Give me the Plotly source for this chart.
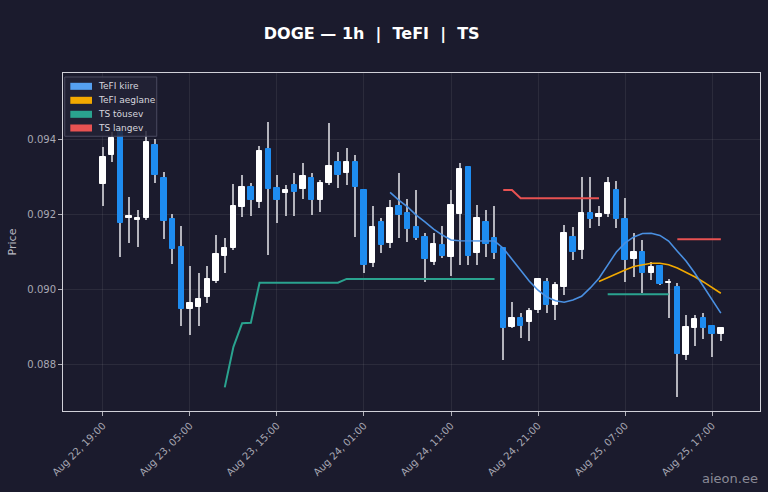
import plotly.graph_objects as go
import pandas as pd

# hourly DOGE candles, Aug 22 19:00 -> Aug 25 18:00
start_time = "2025-08-22 19:00"
n_candles = 72

opens = [0.09280, 0.09357, 0.09419, 0.09190, 0.09184, 0.09189, 0.09384, 0.09295, 0.09188, 0.09111,
         0.08946, 0.08953, 0.08978, 0.09022, 0.09088, 0.09109, 0.09220, 0.09271, 0.09232, 0.09373,
         0.09269, 0.09256, 0.09277, 0.09267, 0.09297, 0.09237, 0.09282, 0.09340, 0.09309, 0.09340,
         0.09264, 0.09070, 0.09180, 0.09123, 0.09221, 0.09203, 0.09165, 0.09138, 0.09073, 0.09117,
         0.09086, 0.09200, 0.09326, 0.09095, 0.09180, 0.09135, 0.09109, 0.08900, 0.08922, 0.08911,
         0.08944, 0.09020, 0.08957, 0.09006, 0.09140, 0.09104, 0.09203, 0.09193, 0.09200, 0.09264,
         0.09187, 0.09079, 0.09099, 0.09042, 0.09061, 0.09015, 0.09005, 0.08824, 0.08895, 0.08922,
         0.08901, 0.08880]
highs = [0.09379, 0.09420, 0.09429, 0.09246, 0.09211, 0.09421, 0.09399, 0.09311, 0.09199, 0.09168,
         0.09061, 0.09044, 0.09061, 0.09144, 0.09135, 0.09280, 0.09304, 0.09282, 0.09381, 0.09446,
         0.09304, 0.09277, 0.09309, 0.09335, 0.09309, 0.09291, 0.09442, 0.09366, 0.09375, 0.09357,
         0.09266, 0.09221, 0.09189, 0.09237, 0.09309, 0.09239, 0.09264, 0.09149, 0.09150, 0.09168,
         0.09264, 0.09337, 0.09328, 0.09224, 0.09211, 0.09221, 0.09109, 0.08966, 0.08935, 0.08949,
         0.09029, 0.09029, 0.09020, 0.09171, 0.09166, 0.09298, 0.09298, 0.09221, 0.09300, 0.09289,
         0.09242, 0.09149, 0.09131, 0.09073, 0.09064, 0.09026, 0.09015, 0.08931, 0.08931, 0.08935,
         0.08904, 0.08898]
lows = [0.09221, 0.09339, 0.09086, 0.09122, 0.09113, 0.09183, 0.09283, 0.09133, 0.09067, 0.08901,
        0.08877, 0.08901, 0.08963, 0.09017, 0.09043, 0.09104, 0.09193, 0.09195, 0.09215, 0.09091,
        0.09175, 0.09196, 0.09195, 0.09239, 0.09197, 0.09205, 0.09277, 0.09269, 0.09277, 0.09138,
        0.09043, 0.09060, 0.09095, 0.09109, 0.09135, 0.09126, 0.09131, 0.09020, 0.09064, 0.09082,
        0.09035, 0.09064, 0.09064, 0.09064, 0.09086, 0.09079, 0.08810, 0.08895, 0.08869, 0.08862,
        0.08935, 0.08935, 0.08917, 0.08984, 0.09077, 0.09079, 0.09162, 0.09168, 0.09193, 0.09162,
        0.09020, 0.09033, 0.08989, 0.09024, 0.09011, 0.08922, 0.08713, 0.08811, 0.08848, 0.08866,
        0.08819, 0.08862]
closes = [0.09353, 0.09402, 0.09175, 0.09196, 0.09190, 0.09391, 0.09304, 0.09182, 0.09108, 0.08946,
          0.08962, 0.08973, 0.09027, 0.09093, 0.09109, 0.09222, 0.09273, 0.09237, 0.09369, 0.09266,
          0.09237, 0.09263, 0.09260, 0.09302, 0.09237, 0.09283, 0.09329, 0.09304, 0.09340, 0.09273,
          0.09064, 0.09165, 0.09117, 0.09215, 0.09197, 0.09159, 0.09135, 0.09079, 0.09119, 0.09088,
          0.09224, 0.09319, 0.09088, 0.09189, 0.09120, 0.09097, 0.08895, 0.08922, 0.08901, 0.08942,
          0.09027, 0.08957, 0.09011, 0.09149, 0.09099, 0.09203, 0.09186, 0.09199, 0.09282, 0.09186,
          0.09077, 0.09099, 0.09042, 0.09059, 0.09013, 0.09020, 0.08827, 0.08898, 0.08919, 0.08895,
          0.08880, 0.08895]

# indicator lines (first index where each begins)
tefi_fast_start = 33
tefi_fast = [0.09258, 0.09237, 0.09219, 0.09197, 0.09179, 0.09160, 0.09144, 0.09131, 0.09129, 0.09129,
             0.09129, 0.09129, 0.09128, 0.09109, 0.09080, 0.09051, 0.09021, 0.08997, 0.08979, 0.08969,
             0.08965, 0.08971, 0.08981, 0.09003, 0.09029, 0.09064, 0.09099, 0.09123, 0.09139, 0.09148,
             0.09149, 0.09143, 0.09128, 0.09101, 0.09075, 0.09043, 0.09008, 0.08973, 0.08936]
tefi_slow_start = 57
tefi_slow = [0.09020, 0.09031, 0.09041, 0.09051, 0.09060, 0.09065, 0.09069, 0.09069, 0.09065, 0.09056,
             0.09045, 0.09033, 0.09019, 0.09004, 0.08989]
ts_up_start = 14
ts_up = [0.08738, 0.08846, 0.08909, 0.08910, 0.09017, 0.09017, 0.09017, 0.09017, 0.09017, 0.09017,
         0.09017, 0.09017, 0.09017, 0.09017, 0.09027, 0.09027, 0.09027, 0.09027, 0.09027, 0.09027,
         0.09027, 0.09027, 0.09027, 0.09027, 0.09027, 0.09027, 0.09027, 0.09027, 0.09027, 0.09027,
         0.09027, 0.09027, None, None, None, None, None, None, None, None,
         None, None, None, None, 0.08986, 0.08986, 0.08986, 0.08986, 0.08986, 0.08986,
         0.08986, 0.08986]
ts_down_start = 46
ts_down = [0.09264, 0.09264, 0.09242, 0.09242, 0.09242, 0.09242, 0.09242, 0.09242, 0.09242, 0.09242,
           0.09242, 0.09242, None, None, None, None, None, None, None, None,
           0.09133, 0.09133, 0.09133, 0.09133, 0.09133, 0.09133]

y_ticks = [0.088, 0.090, 0.092, 0.094]

legend_names = ["TeFI kiire", "TeFI aeglane", "TS tõusev", "TS langev"]
legend_colors = ["#55a0f0", "#f2a900", "#2aa38f", "#e85252"]

BG = "#1b1b2d"
UP = "#ffffff"
DOWN = "#1e8cf0"
WICK = "#b4b4bc"

times = pd.date_range(start=start_time, periods=n_candles, freq="h")
hour_ms = 3600 * 1000

df = pd.DataFrame({"t": times, "o": opens, "h": highs, "l": lows, "c": closes})
df["lo"] = df[["o", "c"]].min(axis=1)
df["size"] = (df["c"] - df["o"]).abs()
df["col"] = [UP if c >= o else DOWN for o, c in zip(df["o"], df["c"])]

fig = go.Figure()

# wicks
fig.add_trace(go.Bar(x=df["t"], base=df["l"], y=df["h"] - df["l"], width=0.13 * hour_ms,
                     marker=dict(color=WICK, line=dict(width=0)), showlegend=False, hoverinfo="skip"))
# bodies
fig.add_trace(go.Bar(x=df["t"], base=df["lo"], y=df["size"], width=0.62 * hour_ms,
                     marker=dict(color=df["col"], line=dict(color=df["col"], width=1)),
                     showlegend=False))


def line(start, vals, color, width):
    return go.Scatter(x=times[start:start + len(vals)], y=vals, mode="lines",
                      line=dict(color=color, width=width), showlegend=False, connectgaps=False)


fig.add_trace(line(ts_up_start, ts_up, legend_colors[2], 2))
fig.add_trace(line(ts_down_start, ts_down, legend_colors[3], 2))
fig.add_trace(line(tefi_slow_start, tefi_slow, legend_colors[1], 1.6))
fig.add_trace(line(tefi_fast_start, tefi_fast, "#4a90e2", 1.6))

# legend box drawn by hand (matplotlib-like patches)
shapes = [dict(type="rect", xref="paper", yref="paper", x0=0.0025, x1=0.1345, y0=0.8128, y1=0.9882,
               fillcolor="rgba(34,34,54,0.85)", line=dict(color="#4a4a60", width=1))]
annotations = []
row_y = [0.9606, 0.9192, 0.8778, 0.8373]
for name, color, ry in zip(legend_names, legend_colors, row_y):
    shapes.append(dict(type="rect", xref="paper", yref="paper", x0=0.0105, x1=0.0416,
                       y0=ry - 0.0104, y1=ry + 0.0104, fillcolor=color, line=dict(width=0)))
    annotations.append(dict(text=name, xref="paper", yref="paper", x=0.0478, y=ry,
                            xanchor="left", yanchor="middle", showarrow=False,
                            font=dict(size=9, color="#d6d6de")))

annotations.append(dict(text="aieon.ee", xref="paper", yref="paper", x=1.0, y=-0.2,
                        xanchor="right", yanchor="middle", showarrow=False,
                        font=dict(size=13, color="#8a8a96")))

axis_common = dict(showline=True, mirror=True, linecolor="#d0d0d8", linewidth=1,
                   gridcolor="rgba(255,255,255,0.07)", zeroline=False,
                   ticks="outside", ticklen=4, tickcolor="#b0b0b8",
                   tickfont=dict(size=10, color="#a8a8b4"))

fig.update_layout(
    width=768, height=492,
    paper_bgcolor=BG, plot_bgcolor=BG,
    barmode="overlay", bargap=0,
    margin=dict(l=63, r=8, t=73, b=81),
    showlegend=False,
    font=dict(family="DejaVu Sans", color="#c8c8d0"),
    title=dict(text="<b>DOGE — 1h  |  TeFI  |  TS</b>", x=0.484, xanchor="center",
               y=0.933, yanchor="middle", font=dict(size=16, color="#ffffff")),
    xaxis=dict(axis_common, type="date", range=["2025-08-22 14:25", "2025-08-25 22:30"],
               tick0="2025-08-22 19:00", dtick=10 * hour_ms, tickformat="%b %d, %H:%M",
               tickangle=-45),
    yaxis=dict(axis_common, range=[0.08675, 0.09576], tickvals=y_ticks, tickformat=".3f",
               title=dict(text="Price", font=dict(size=11, color="#b8b8c0"), standoff=8)),
    shapes=shapes,
    annotations=annotations,
)

fig.write_html("out.html", config={"displayModeBar": False},
               post_script="document.body.style.margin='0';")
